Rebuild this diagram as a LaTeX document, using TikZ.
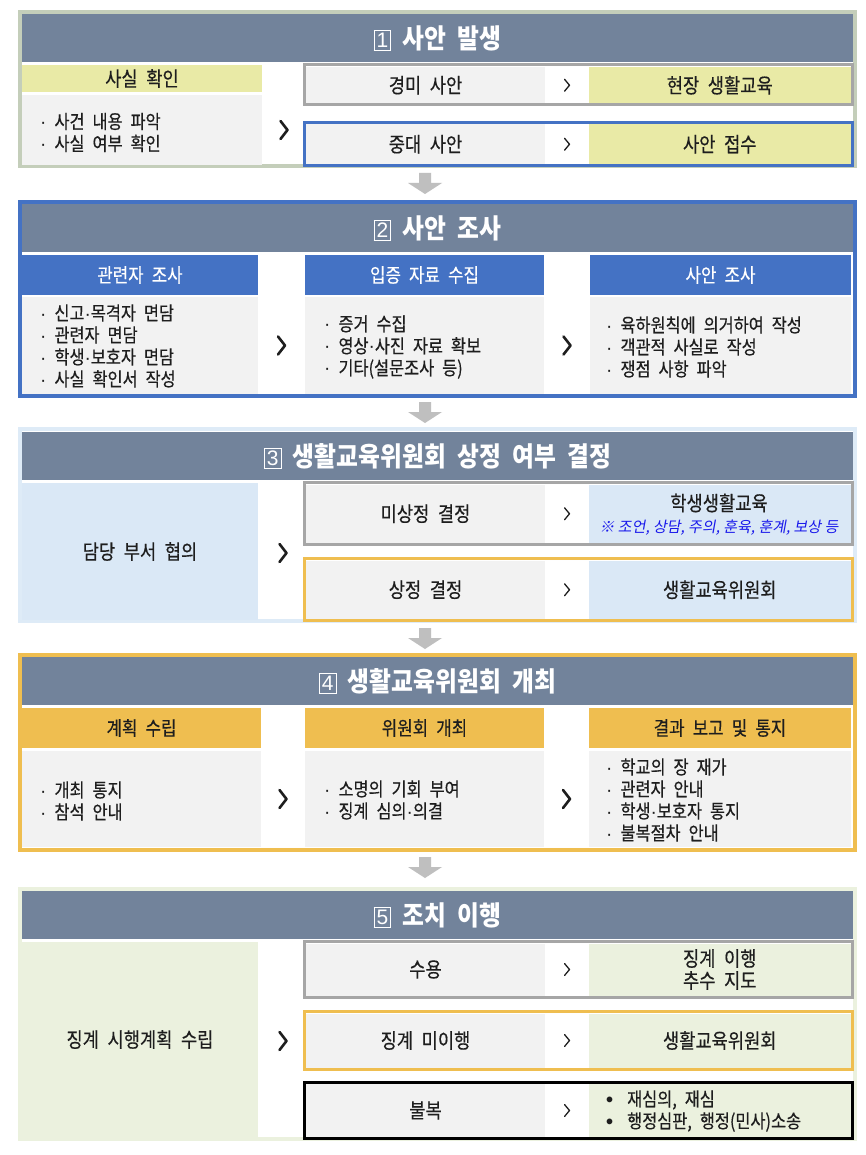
\documentclass[tikz,border=0pt]{standalone}
\usepackage{fontspec}
\usetikzlibrary{calc}
\setmainfont{Noto Sans CJK KR}[FakeStretch=0.86, FakeBold=0.4]
\newfontfamily\ttlfont{Noto Sans CJK KR}[FakeStretch=0.88]
\newfontfamily\slfont{Noto Sans CJK KR}[FakeSlant=0.18]
\newfontfamily\numfont{Liberation Sans}
\definecolor{slate}{RGB}{114,131,155}
\definecolor{sonef}{RGB}{196,206,186}
\definecolor{ygreen}{RGB}{233,234,166}
\definecolor{lgray}{RGB}{242,242,242}
\definecolor{gbord}{RGB}{166,166,166}
\definecolor{mblue}{RGB}{68,114,196}
\definecolor{lblue}{RGB}{218,232,246}
\definecolor{lbluef}{RGB}{222,235,247}
\definecolor{gold}{RGB}{239,190,80}
\definecolor{lgreen}{RGB}{235,241,222}
\definecolor{textc}{RGB}{30,30,30}
\definecolor{iblue}{RGB}{25,25,235}
\definecolor{agray}{RGB}{191,191,191}
\newcommand\md{{\numfont\mdseries ·}}
\newcommand\bul{{\numfont\bfseries\fontsize{20}{20}\selectfont •}}
\newcommand\wsp{\spaceskip=0.42em\relax}
\newcommand\boxnum[1]{{\setlength\fboxsep{2pt}\setlength\fboxrule{1pt}\raisebox{0.5pt}{\fbox{\numfont\mdseries\fontsize{21}{21}\selectfont #1}}}}
\newcommand\rbox[7]{\node[#2, minimum width={#5-#3}, minimum height={#6-#4}, inner sep=0pt, outer sep=0pt] (#1) at ({(#3+#5)/2},{(#4+#6)/2}) {#7};}
\tikzset{
  txt/.style={font=\fontsize{20.5}{22}\selectfont\wsp, text=textc, align=center},
  lst/.style={font=\fontsize{19}{22}\selectfont\wsp, text=textc, align=left, anchor=west, inner sep=0pt},
  ttl/.style={fill=slate, font=\ttlfont\bfseries\fontsize{27}{28}\selectfont\wsp, text=white},
  hdw/.style={fill=mblue, font=\fontsize{19.5}{20}\selectfont\wsp, text=white},
  hdg/.style={fill=gold, font=\fontsize{19.5}{20}\selectfont\wsp, text=textc},
  frm/.style={line width=3pt},
  secf/.style={line width=4pt},
  bigchev/.pic={\draw[line width=2.6pt, line cap=round, line join=round, textc] (-3.5,-9) -- (3.5,0) -- (-3.5,9);},
  smchev/.pic={\draw[line width=1.3pt, line cap=round, line join=round, textc] (-2.5,-6) -- (2.5,0) -- (-2.5,6);},
  downarrow/.pic={\fill[agray] (-6,0) -- (6,0) -- (6,10) -- (17,10) -- (0,21) -- (-17,10) -- (-6,10) -- cycle;}
}
\begin{document}
\begin{tikzpicture}[x=1pt,y=-1pt]
\useasboundingbox (0,0) rectangle (866,1155);
\fill[white] (0,0) rectangle (866,1155);

% ===== Section 1 =====
\draw[secf, sonef] (20,12) rectangle (855,166);
\rbox{t1}{ttl}{22}{14}{853}{62}{\boxnum{1}\ 사안 발생}
\rbox{a1h}{fill=ygreen, txt}{22}{65}{262}{92}{사실 확인}
\rbox{a1b}{fill=lgray}{22}{95}{262}{165}{}
\node[lst] (a1l) at (40,132.5) {\md\ 사건 내용 파악\\\md\ 사실 여부 확인};
\draw[frm, gbord] (304,65) rectangle (852,105);
\rbox{a1m1}{fill=lgray, txt}{306}{67}{545}{103.5}{경미 사안}
\rbox{a1r1}{fill=ygreen, txt}{589}{67}{850.5}{103.5}{현장 생활교육}
\draw[frm, mblue] (304,122.5) rectangle (852,165.5);
\rbox{a1m2}{fill=lgray, txt}{306}{124.5}{545}{164}{중대 사안}
\rbox{a1r2}{fill=ygreen, txt}{589}{124.5}{850.5}{164}{사안 접수}
\pic at ($(a1b.east)!0.5!(a1m1.west |- a1b.east)$) {bigchev};
\pic at ($(a1m1.east)!0.5!(a1r1.west)$) {smchev};
\pic at ($(a1m2.east)!0.5!(a1r2.west)$) {smchev};
\pic at (425,173) {downarrow};

% ===== Section 2 =====
\draw[secf, mblue] (20,202) rectangle (855,396);
\rbox{t2}{ttl}{22}{204}{853}{252}{\boxnum{2}\ 사안 조사}
\rbox{b2h1}{hdw}{22}{255}{258}{295}{관련자 조사}
\rbox{b2h2}{hdw}{305}{255}{544}{295}{입증 자료 수집}
\rbox{b2h3}{hdw}{590}{255}{851}{295}{사안 조사}
\rbox{b2b1}{fill=lgray}{22}{297}{258}{394}{}
\rbox{b2b2}{fill=lgray}{305}{297}{544}{394}{}
\rbox{b2b3}{fill=lgray}{590}{297}{851}{394}{}
\node[lst] (b2l1) at (40,346) {\md\ 신고\md 목격자 면담\\\md\ 관련자 면담\\\md\ 학생\md 보호자 면담\\\md\ 사실 확인서 작성};
\node[lst] (b2l2) at (324,347) {\md\ 증거 수집\\\md\ 영상\md 사진 자료 확보\\\md\ 기타(설문조사 등)};
\node[lst] (b2l3) at (606,347) {\md\ 육하원칙에 의거하여 작성\\\md\ 객관적 사실로 작성\\\md\ 쟁점 사항 파악};
\pic at ($(b2b1.east)!0.5!(b2b2.west)$) {bigchev};
\pic at ($(b2b2.east)!0.5!(b2b3.west)$) {bigchev};
\pic at (425,402) {downarrow};

% ===== Section 3 =====
\draw[secf, lbluef] (20,429) rectangle (855,621);
\rbox{t3}{ttl}{22}{432}{853}{480}{\boxnum{3}\ 생활교육위원회 상정 여부 결정}
\rbox{c3l}{fill=lblue, txt}{22}{483}{258}{620}{담당 부서 협의}
\draw[frm, gbord] (304,482.5) rectangle (852,544.5);
\rbox{c3m1}{fill=lgray, txt}{306}{484.5}{545}{543}{미상정 결정}
\rbox{c3r1}{fill=lblue}{589}{484.5}{850.5}{543}{}
\node[txt, inner sep=0pt] (c3r1a) at (719,503) {학생생활교육};
\node[font=\slfont\fontsize{15}{15}\selectfont, text=iblue, inner sep=0pt] (c3r1b) at (719,528) {※ 조언, 상담, 주의, 훈육, 훈계, 보상 등};
\draw[frm, gold] (304,558.5) rectangle (852,620.5);
\rbox{c3m2}{fill=lgray, txt}{306}{560.5}{545}{619}{상정 결정}
\rbox{c3r2}{fill=lblue, txt}{589}{560.5}{850.5}{619}{생활교육위원회}
\pic at (283,553) {bigchev};
\pic at ($(c3m1.east)!0.5!(c3r1.west)$) {smchev};
\pic at ($(c3m2.east)!0.5!(c3r2.west)$) {smchev};
\pic at (425,628) {downarrow};

% ===== Section 4 =====
\draw[secf, gold] (20,655) rectangle (855,850);
\rbox{t4}{ttl}{22}{657}{853}{705}{\boxnum{4}\ 생활교육위원회 개최}
\rbox{d4h1}{hdg}{22}{708}{261}{748}{계획 수립}
\rbox{d4h2}{hdg}{305}{708}{544}{748}{위원회 개최}
\rbox{d4h3}{hdg}{589}{708}{851}{748}{결과 보고 및 통지}
\rbox{d4b1}{fill=lgray}{22}{751}{261}{847}{}
\rbox{d4b2}{fill=lgray}{305}{751}{544}{847}{}
\rbox{d4b3}{fill=lgray}{589}{751}{851}{847}{}
\node[lst] (d4l1) at (40,801) {\md\ 개최 통지\\\md\ 참석 안내};
\node[lst] (d4l2) at (324,800) {\md\ 소명의 기회 부여\\\md\ 징계 심의\md 의결};
\node[lst] (d4l3) at (606,800) {\md\ 학교의 장 재가\\\md\ 관련자 안내\\\md\ 학생\md 보호자 통지\\\md\ 불복절차 안내};
\pic at ($(d4b1.east)!0.5!(d4b2.west)$) {bigchev};
\pic at ($(d4b2.east)!0.5!(d4b3.west)$) {bigchev};
\pic at (425,857) {downarrow};

% ===== Section 5 =====
\draw[secf, lgreen] (20,889) rectangle (855,1139);
\rbox{t5}{ttl}{22}{891}{853}{939}{\boxnum{5}\ 조치 이행}
\rbox{e5l}{fill=lgreen, txt}{22}{942}{258}{1137}{징계 시행계획 수립}
\draw[frm, gbord] (304,941.5) rectangle (852,997);
\rbox{e5m1}{fill=lgray, txt}{306}{943.5}{545}{995.5}{수용}
\rbox{e5r1}{fill=lgreen, txt}{589}{943.5}{850.5}{995.5}{징계 이행\\추수 지도}
\draw[frm, gold] (304,1011.5) rectangle (852,1069);
\rbox{e5m2}{fill=lgray, txt}{306}{1013.5}{545}{1067.5}{징계 미이행}
\rbox{e5r2}{fill=lgreen, txt}{589}{1013.5}{850.5}{1067.5}{생활교육위원회}
\draw[frm, black] (304,1082) rectangle (852,1138.5);
\rbox{e5m3}{fill=lgray, txt}{306}{1084}{545}{1137}{불복}
\rbox{e5r3}{fill=lgreen}{589}{1084}{850.5}{1137}{}
\node[lst] (e5l3) at (606,1111) {\bul\hspace{14pt}재심의, 재심\\\bul\hspace{14pt}행정심판, 행정(민사)소송};
\pic at (283,1041) {bigchev};
\pic at ($(e5m1.east)!0.5!(e5r1.west)$) {smchev};
\pic at ($(e5m2.east)!0.5!(e5r2.west)$) {smchev};
\pic at ($(e5m3.east)!0.5!(e5r3.west)$) {smchev};
\end{tikzpicture}
\end{document}
